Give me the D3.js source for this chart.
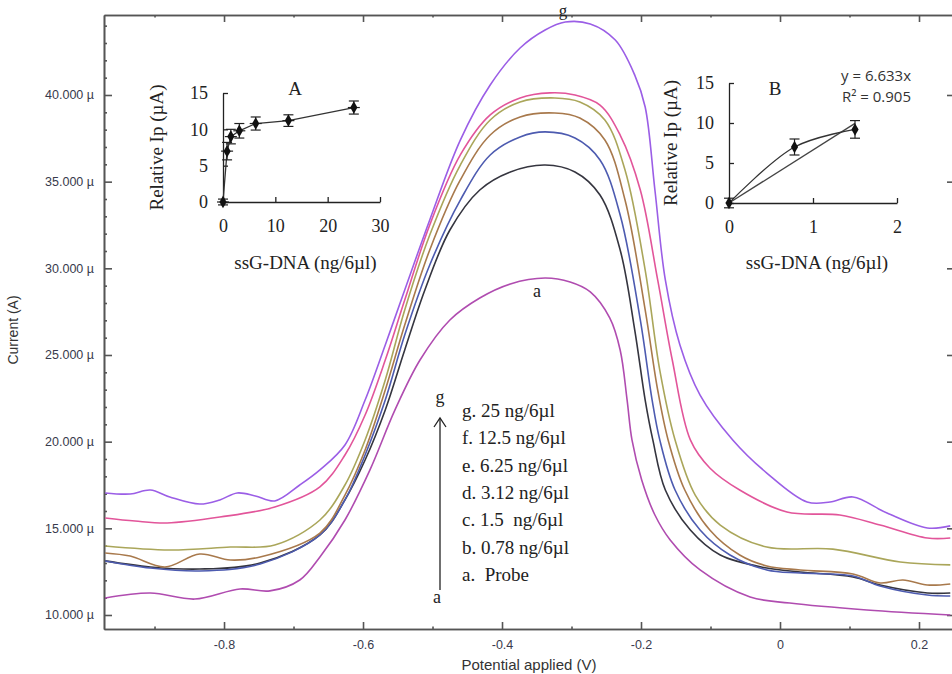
<!DOCTYPE html>
<html>
<head>
<meta charset="utf-8">
<script src="https://cdn.jsdelivr.net/npm/d3@7"></script>
<style>
  body { margin: 0; background: #fff; }
</style>
</head>
<body>
<div id="chart"></div>
<script>
// DPV curves, [potential (V), current (µA)]
const curveA = [[-0.971,10.98],[-0.906,11.27],[-0.842,10.92],[-0.777,11.50],[-0.734,11.39],[-0.691,12.02],[-0.662,13.35],[-0.626,15.48],[-0.590,18.37],[-0.554,21.83],[-0.518,24.71],[-0.475,27.02],[-0.432,28.29],[-0.388,29.10],[-0.338,29.44],[-0.302,29.21],[-0.273,28.64],[-0.245,27.14],[-0.230,25.29],[-0.220,22.40],[-0.213,20.10],[-0.199,17.79],[-0.180,15.77],[-0.158,14.33],[-0.115,12.60],[-0.043,11.04],[0.014,10.69],[0.125,10.29],[0.245,10.00]];
const curveB = [[-0.971,13.12],[-0.906,12.77],[-0.835,12.65],[-0.748,13.00],[-0.662,14.62],[-0.626,16.64],[-0.597,18.94],[-0.568,21.83],[-0.540,25.29],[-0.511,28.75],[-0.475,32.21],[-0.432,34.52],[-0.388,35.56],[-0.338,35.96],[-0.295,35.56],[-0.259,34.23],[-0.230,31.06],[-0.209,26.44],[-0.194,22.40],[-0.183,20.10],[-0.165,17.21],[-0.129,14.90],[-0.086,13.46],[-0.019,12.71],[0.029,12.48],[0.105,12.19],[0.144,11.73],[0.212,11.27],[0.245,11.27]];
const curveC = [[-0.971,13.12],[-0.906,12.71],[-0.835,12.54],[-0.748,12.94],[-0.662,14.62],[-0.626,16.64],[-0.597,19.23],[-0.568,22.40],[-0.540,26.15],[-0.504,30.19],[-0.460,33.94],[-0.417,36.54],[-0.374,37.58],[-0.338,37.87],[-0.295,37.52],[-0.259,36.25],[-0.230,33.08],[-0.201,27.02],[-0.184,22.40],[-0.173,20.10],[-0.151,17.21],[-0.115,14.90],[-0.072,13.46],[-0.019,12.60],[0.029,12.42],[0.105,12.25],[0.144,11.67],[0.212,11.15],[0.245,11.10]];
const curveD = [[-0.971,13.58],[-0.935,13.40],[-0.885,12.77],[-0.835,13.52],[-0.791,13.17],[-0.748,13.35],[-0.662,14.73],[-0.626,16.92],[-0.597,19.52],[-0.568,22.98],[-0.540,26.73],[-0.504,31.06],[-0.460,35.10],[-0.417,37.69],[-0.374,38.73],[-0.324,38.96],[-0.288,38.67],[-0.252,37.40],[-0.223,33.94],[-0.194,27.60],[-0.176,22.98],[-0.161,20.10],[-0.137,17.21],[-0.101,14.90],[-0.058,13.46],[-0.019,12.83],[0.029,12.60],[0.105,12.37],[0.144,11.85],[0.177,12.02],[0.212,11.73],[0.245,11.79]];
const curveE = [[-0.971,13.98],[-0.878,13.75],[-0.791,13.92],[-0.727,14.04],[-0.662,15.48],[-0.626,17.50],[-0.597,20.10],[-0.568,23.56],[-0.540,27.60],[-0.504,31.92],[-0.460,35.96],[-0.417,38.56],[-0.374,39.60],[-0.324,39.83],[-0.288,39.60],[-0.252,38.56],[-0.223,35.67],[-0.194,29.90],[-0.173,24.13],[-0.151,20.10],[-0.122,16.92],[-0.086,15.19],[-0.019,13.92],[0.076,13.80],[0.173,13.06],[0.245,12.89]];
const curveF = [[-0.971,15.60],[-0.928,15.42],[-0.882,15.31],[-0.806,15.65],[-0.727,16.23],[-0.662,17.39],[-0.626,19.23],[-0.597,21.54],[-0.568,24.71],[-0.540,28.17],[-0.504,32.50],[-0.460,36.54],[-0.417,38.85],[-0.374,39.83],[-0.331,40.12],[-0.295,40.00],[-0.259,39.42],[-0.230,37.69],[-0.201,34.52],[-0.176,29.33],[-0.155,24.71],[-0.129,20.10],[-0.101,18.48],[-0.058,17.21],[0.010,15.94],[0.086,15.77],[0.144,15.19],[0.212,14.44],[0.245,14.44]];
const curveG = [[-0.971,17.04],[-0.935,16.98],[-0.906,17.21],[-0.878,16.81],[-0.835,16.40],[-0.806,16.64],[-0.781,17.04],[-0.755,16.87],[-0.727,16.58],[-0.691,17.50],[-0.662,18.37],[-0.626,19.81],[-0.597,22.40],[-0.568,25.58],[-0.540,28.75],[-0.504,32.79],[-0.460,37.40],[-0.417,40.58],[-0.374,42.71],[-0.338,43.75],[-0.309,44.21],[-0.273,44.10],[-0.237,43.17],[-0.209,41.15],[-0.194,39.31],[-0.180,34.52],[-0.165,29.33],[-0.144,25.58],[-0.115,22.69],[-0.068,20.10],[-0.019,18.19],[0.039,16.52],[0.072,16.52],[0.105,16.81],[0.154,15.88],[0.212,15.02],[0.245,15.14]];

const curveColors = ["#b04cb0", "#35353f", "#4d5bb0", "#a8794c", "#aaa65a", "#e2559a", "#9b5ee6"];

const legendLabels = ["g. 25 ng/6\u00b5l", "f. 12.5 ng/6\u00b5l", "e. 6.25 ng/6\u00b5l", "d. 3.12 ng/6\u00b5l",
                      "c. 1.5  ng/6\u00b5l", "b. 0.78 ng/6\u00b5l", "a.  Probe"];

const xMajorTicks = [-0.8, -0.6, -0.4, -0.2, 0, 0.2];
const xMinorTicks = [-0.9, -0.7, -0.5, -0.3, -0.1, 0.1];
const yMajorTicks = [10, 15, 20, 25, 30, 35, 40];
const yMinorTicks = [11,12,13,14,16,17,18,19,21,22,23,24,26,27,28,29,31,32,33,34,36,37,38,39,41,42,43,44];

// inset A: relative Ip vs concentration
const insetAConc = [0, 0.78, 1.5, 3.12, 6.25, 12.5, 25];
const insetAIp = [0, 7.0, 9.0, 9.8, 10.8, 11.2, 13.0];
const insetAErr = [0.4, 1.2, 1.0, 1.0, 0.9, 0.8, 0.9];
const insetATicksX = [0, 10, 20, 30];
// inset B: low range with linear fit
const insetBConc = [0, 0.78, 1.5];
const insetBIp = [0, 7.0, 9.2];
const insetBErr = [0.6, 1.0, 1.1];
const insetBTicksX = [0, 1, 2];
const insetTicksY = [0, 5, 10, 15];
const fitSlopeB = 6.633;

const serif = "'Liberation Serif', 'Times New Roman', serif";
const sans = "'Liberation Sans', Arial, sans-serif";

const svg = d3.select("#chart").append("svg")
    .attr("width", 952)
    .attr("height", 674);

const x = d3.scaleLinear().domain([-0.9727, 0.2518]).range([104, 955]);
const y = d3.scaleLinear().domain([9.192, 44.615]).range([629, 15]);

const axisColor = "#555";

function styleAxis(g) {
    g.attr("font-family", sans).attr("font-size", 12.5);
    g.select(".domain").attr("stroke", axisColor).attr("stroke-width", 1.6);
    g.selectAll(".tick line").attr("stroke", axisColor).attr("stroke-width", 1.6);
    g.selectAll(".tick text").attr("fill", "#383a4c");
}

// bottom axis
svg.append("g")
    .attr("transform", "translate(0,629)")
    .call(d3.axisBottom(x).tickValues(xMajorTicks).tickSize(-7).tickSizeOuter(0).tickPadding(11)
        .tickFormat(d => d === 0 ? "0" : d.toFixed(1)))
    .call(styleAxis);
svg.append("g")
    .attr("transform", "translate(0,629)")
    .call(d3.axisBottom(x).tickValues(xMinorTicks).tickSize(-2.5).tickSizeOuter(0).tickFormat(""))
    .call(styleAxis);

// top frame
svg.append("g")
    .attr("transform", "translate(0,15)")
    .call(d3.axisTop(x).tickValues(xMajorTicks).tickSize(-7).tickSizeOuter(0).tickFormat(""))
    .call(styleAxis);
svg.append("g")
    .attr("transform", "translate(0,15)")
    .call(d3.axisTop(x).tickValues(xMinorTicks).tickSize(-2.5).tickSizeOuter(0).tickFormat(""))
    .call(styleAxis);

// left axis
svg.append("g")
    .attr("transform", "translate(104,0)")
    .call(d3.axisLeft(y).tickValues(yMajorTicks).tickSize(-8).tickSizeOuter(0).tickPadding(10)
        .tickFormat(d => d.toFixed(3) + " \u00b5"))
    .call(styleAxis);
svg.append("g")
    .attr("transform", "translate(104,0)")
    .call(d3.axisLeft(y).tickValues(yMinorTicks).tickSize(-3).tickSizeOuter(0).tickFormat(""))
    .call(styleAxis);

// right frame (mostly off the picture)
svg.append("g")
    .attr("transform", "translate(955,0)")
    .call(d3.axisRight(y).tickValues(yMajorTicks).tickSize(-8).tickSizeOuter(0).tickFormat(""))
    .call(styleAxis);

svg.append("text")
    .attr("transform", "translate(18,330) rotate(-90)")
    .attr("text-anchor", "middle")
    .attr("font-family", sans)
    .attr("font-size", 14)
    .attr("fill", "#333")
    .text("Current (A)");

svg.append("text")
    .attr("x", 529)
    .attr("y", 670)
    .attr("text-anchor", "middle")
    .attr("font-family", sans)
    .attr("font-size", 15)
    .attr("fill", "#333")
    .text("Potential applied (V)");

// the curves
const line = d3.line()
    .x(d => x(d[0]))
    .y(d => y(d[1]))
    .curve(d3.curveCatmullRom.alpha(0.5));

const curves = [curveA, curveB, curveC, curveD, curveE, curveF, curveG];

svg.append("g")
    .selectAll("path")
    .data(curves)
    .join("path")
        .attr("d", d => line(d))
        .attr("fill", "none")
        .attr("stroke", (d, i) => curveColors[i])
        .attr("stroke-width", 1.6);

// peak labels
svg.append("text").attr("x", 563).attr("y", 16).attr("text-anchor", "middle")
    .attr("font-family", serif).attr("font-size", 17).attr("fill", "#222").text("g");
svg.append("text").attr("x", 537).attr("y", 297).attr("text-anchor", "middle")
    .attr("font-family", serif).attr("font-size", 18).attr("fill", "#222").text("a");

// legend with arrow
svg.append("line")
    .attr("x1", 440).attr("y1", 590).attr("x2", 440).attr("y2", 418)
    .attr("stroke", "#222").attr("stroke-width", 1.3);
svg.append("path")
    .attr("d", "M434,427 L440,418 L446,427")
    .attr("fill", "none").attr("stroke", "#222").attr("stroke-width", 1.3);
svg.append("text").attr("x", 440).attr("y", 403).attr("text-anchor", "middle")
    .attr("font-family", serif).attr("font-size", 18).attr("fill", "#222").text("g");
svg.append("text").attr("x", 437).attr("y", 603).attr("text-anchor", "middle")
    .attr("font-family", serif).attr("font-size", 18).attr("fill", "#222").text("a");

svg.append("g")
    .selectAll("text")
    .data(legendLabels)
    .join("text")
        .attr("x", 462)
        .attr("y", (d, i) => 417 + i * 27.3)
        .attr("font-family", serif)
        .attr("font-size", 19)
        .attr("fill", "#222")
        .style("white-space", "pre")
        .text(d => d);

// insets
function drawInset(opt) {
    const g = svg.append("g");
    const ix = d3.scaleLinear().domain(opt.xDomain).range(opt.xRange);
    const iy = d3.scaleLinear().domain([0, 15]).range(opt.yRange);

    const xa = g.append("g")
        .attr("transform", "translate(0," + opt.yRange[0] + ")")
        .call(d3.axisBottom(ix).tickValues(opt.xTicks).tickSize(-5).tickSizeOuter(0).tickPadding(17)
            .tickFormat(d3.format("d")));
    const ya = g.append("g")
        .attr("transform", "translate(" + opt.xRange[0] + ",0)")
        .call(d3.axisLeft(iy).tickValues(insetTicksY).tickSize(-5).tickSizeOuter(0).tickPadding(15)
            .tickFormat(d3.format("d")));
    [xa, ya].forEach(a => {
        a.attr("font-family", serif).attr("font-size", 18);
        a.select(".domain").attr("stroke", "#222").attr("stroke-width", 1.3);
        a.selectAll(".tick line").attr("stroke", "#222").attr("stroke-width", 1.3);
        a.selectAll(".tick text").attr("fill", "#222");
    });

    g.append("text")
        .attr("transform", "translate(" + opt.yLabelX + "," + (opt.yRange[0] + opt.yRange[1]) / 2 + ") rotate(-90)")
        .attr("text-anchor", "middle")
        .attr("font-family", serif).attr("font-size", 19).attr("fill", "#222")
        .text("Relative Ip (\u00b5A)");
    g.append("text")
        .attr("x", (opt.xRange[0] + opt.xRange[1]) / 2 + 4)
        .attr("y", 269)
        .attr("text-anchor", "middle")
        .attr("font-family", serif).attr("font-size", 19).attr("fill", "#222")
        .text("ssG-DNA (ng/6\u00b5l)");
    g.append("text")
        .attr("x", opt.titleX).attr("y", 95)
        .attr("text-anchor", "middle")
        .attr("font-family", serif).attr("font-size", 19).attr("fill", "#222")
        .text(opt.title);

    const pts = opt.xs.map((v, i) => [v, opt.ys[i], opt.errs[i]]);

    if (opt.fit) {
        g.append("line")
            .attr("x1", ix(0)).attr("y1", iy(0))
            .attr("x2", ix(d3.max(opt.xs))).attr("y2", iy(opt.fit * d3.max(opt.xs)))
            .attr("stroke", "#444").attr("stroke-width", 1.3);
    }

    g.append("path")
        .attr("d", d3.line().x(d => ix(d[0])).y(d => iy(d[1])).curve(opt.curve)(pts))
        .attr("fill", "none").attr("stroke", "#333").attr("stroke-width", 1.3);

    const eb = g.append("g").selectAll("g").data(pts).join("g");
    eb.append("line")
        .attr("x1", d => ix(d[0])).attr("x2", d => ix(d[0]))
        .attr("y1", d => iy(d[1] - d[2])).attr("y2", d => iy(d[1] + d[2]))
        .attr("stroke", "#222").attr("stroke-width", 1.2);
    [-1, 1].forEach(s => {
        eb.append("line")
            .attr("x1", d => ix(d[0]) - 5).attr("x2", d => ix(d[0]) + 5)
            .attr("y1", d => iy(d[1] + s * d[2])).attr("y2", d => iy(d[1] + s * d[2]))
            .attr("stroke", "#222").attr("stroke-width", 1.2);
    });
    if (opt.hbars) {
        eb.append("line")
            .attr("x1", d => ix(d[0]) - 6).attr("x2", d => ix(d[0]) + 6)
            .attr("y1", d => iy(d[1])).attr("y2", d => iy(d[1]))
            .attr("stroke", "#222").attr("stroke-width", 1.2);
    }
    eb.append("path")
        .attr("transform", d => "translate(" + ix(d[0]) + "," + iy(d[1]) + ")")
        .attr("d", d3.symbol(d3.symbolDiamond, 45))
        .attr("fill", "#111");
    return g;
}

drawInset({
    xDomain: [0, 30], xRange: [223, 380], yRange: [202, 93],
    xTicks: insetATicksX, xs: insetAConc, ys: insetAIp, errs: insetAErr,
    title: "A", titleX: 295, yLabelX: 163, curve: d3.curveLinear, hbars: true
});

drawInset({
    xDomain: [0, 2], xRange: [729, 897], yRange: [203, 83],
    xTicks: insetBTicksX, xs: insetBConc, ys: insetBIp, errs: insetBErr,
    title: "B", titleX: 775, yLabelX: 677, curve: d3.curveCatmullRom, fit: fitSlopeB
});

svg.append("text").attr("x", 911).attr("y", 81).attr("text-anchor", "end")
    .attr("font-family", "'Open Sans', 'Noto Sans', sans-serif").attr("font-size", 15).attr("fill", "#333")
    .text("y = " + fitSlopeB + "x");
svg.append("text").attr("x", 911).attr("y", 102).attr("text-anchor", "end")
    .attr("font-family", "'Open Sans', 'Noto Sans', sans-serif").attr("font-size", 15).attr("fill", "#333")
    .text("R\u00b2 = 0.905");
</script>
</body>
</html>
